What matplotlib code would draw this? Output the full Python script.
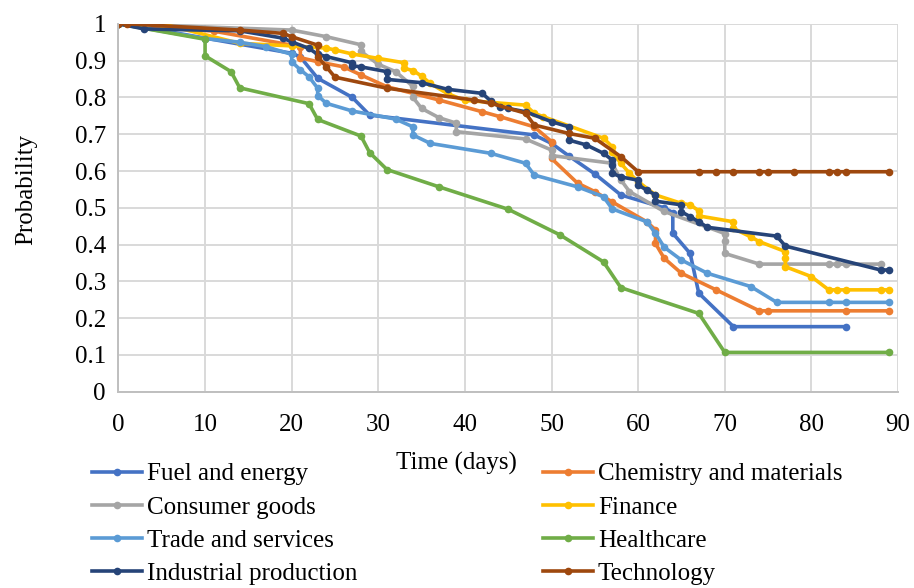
import matplotlib
matplotlib.use("Agg")
import matplotlib.pyplot as plt

# ---------------- data ----------------
fuel_days = [0, 3, 20, 21, 23, 27, 29, 48, 50, 52, 55, 58, 63, 64, 64, 66, 67, 71, 84]
fuel_prob = [1.0, 0.99, 0.92, 0.91, 0.852, 0.80, 0.752, 0.698, 0.675, 0.641, 0.592, 0.535, 0.50, 0.487, 0.431, 0.376, 0.268, 0.177, 0.177]

chem_days = [0, 11, 21, 21, 23, 26, 28, 31, 37, 42, 44, 48, 50, 50, 53, 55, 57, 61, 62, 62, 63, 65, 69, 74, 75, 84, 89]
chem_prob = [1.0, 0.98, 0.938, 0.908, 0.897, 0.883, 0.861, 0.829, 0.793, 0.761, 0.748, 0.72, 0.68, 0.634, 0.567, 0.544, 0.516, 0.462, 0.44, 0.403, 0.363, 0.322, 0.277, 0.22, 0.22, 0.22, 0.22]

cons_days = [0, 20, 24, 28, 28, 30, 32, 34, 34, 35, 37, 39, 39, 47, 50, 50, 57, 58, 59, 63, 70, 70, 70, 74, 82, 83, 84, 88]
cons_prob = [1.0, 0.983, 0.965, 0.943, 0.925, 0.89, 0.87, 0.83, 0.80, 0.77, 0.745, 0.73, 0.707, 0.687, 0.657, 0.642, 0.621, 0.576, 0.544, 0.49, 0.43, 0.41, 0.376, 0.347, 0.347, 0.347, 0.347, 0.347]

fin_days = [0, 5, 14, 20, 24, 25, 27, 30, 33, 33, 34, 35, 36, 38, 40, 47, 48, 49, 56, 57, 57, 58, 59, 60, 62, 65, 66, 67, 67, 71, 71, 73, 74, 77, 77, 77, 80, 82, 83, 84, 88, 89]
fin_prob = [1.0, 1.0, 0.947, 0.94, 0.934, 0.929, 0.918, 0.906, 0.894, 0.879, 0.873, 0.858, 0.838, 0.81, 0.792, 0.779, 0.757, 0.748, 0.689, 0.666, 0.652, 0.621, 0.594, 0.571, 0.535, 0.512, 0.508, 0.492, 0.478, 0.462, 0.444, 0.421, 0.408, 0.381, 0.363, 0.34, 0.313, 0.277, 0.277, 0.277, 0.277, 0.277]

trade_days = [0, 10, 14, 17, 20, 20, 21, 22, 23, 23, 24, 27, 32, 34, 34, 36, 43, 47, 48, 53, 56, 57, 61, 62, 63, 65, 68, 73, 76, 82, 84, 89]
trade_prob = [1.0, 0.96, 0.95, 0.938, 0.917, 0.897, 0.875, 0.856, 0.825, 0.805, 0.784, 0.763, 0.741, 0.72, 0.698, 0.675, 0.648, 0.621, 0.589, 0.557, 0.53, 0.497, 0.462, 0.431, 0.393, 0.358, 0.322, 0.286, 0.243, 0.243, 0.243, 0.243]

health_days = [0, 10, 10, 13, 14, 22, 23, 28, 29, 31, 37, 45, 51, 56, 58, 67, 70, 89]
health_prob = [1.0, 0.958, 0.913, 0.87, 0.826, 0.783, 0.74, 0.695, 0.65, 0.604, 0.557, 0.496, 0.426, 0.353, 0.283, 0.213, 0.107, 0.107]

ind_days = [0, 3, 14, 19, 20, 22, 23, 24, 27, 27, 28, 31, 31, 35, 38, 42, 43, 44, 45, 47, 50, 52, 52, 54, 56, 57, 57, 57, 58, 60, 60, 61, 62, 62, 65, 65, 66, 67, 68, 76, 77, 88, 89]
ind_prob = [1.0, 0.986, 0.981, 0.961, 0.951, 0.933, 0.917, 0.911, 0.894, 0.886, 0.883, 0.87, 0.849, 0.84, 0.822, 0.811, 0.79, 0.775, 0.77, 0.761, 0.734, 0.72, 0.684, 0.671, 0.648, 0.63, 0.616, 0.594, 0.584, 0.575, 0.562, 0.548, 0.535, 0.518, 0.508, 0.489, 0.476, 0.462, 0.447, 0.423, 0.396, 0.331, 0.331]

tech_days = [0, 1, 14, 19, 20, 23, 23, 24, 25, 31, 41, 43, 47, 48, 52, 55, 58, 60, 67, 69, 71, 74, 75, 78, 82, 83, 84, 89]
tech_prob = [1.0, 1.0, 0.983, 0.974, 0.965, 0.942, 0.911, 0.883, 0.855, 0.825, 0.793, 0.784, 0.757, 0.725, 0.702, 0.689, 0.639, 0.598, 0.598, 0.598, 0.598, 0.598, 0.598, 0.598, 0.598, 0.598, 0.598, 0.598]

series_names = ["Fuel and energy", "Chemistry and materials", "Consumer goods", "Finance",
                "Trade and services", "Healthcare", "Industrial production", "Technology"]
series_colors = ["#4472C4", "#ED7D31", "#A5A5A5", "#FFC000",
                 "#5B9BD5", "#70AD47", "#264478", "#9E480E"]
series_data = [(fuel_days, fuel_prob), (chem_days, chem_prob), (cons_days, cons_prob),
               (fin_days, fin_prob), (trade_days, trade_prob), (health_days, health_prob),
               (ind_days, ind_prob), (tech_days, tech_prob)]

x_ticks = [0, 10, 20, 30, 40, 50, 60, 70, 80, 90]
y_ticks = [0, 0.1, 0.2, 0.3, 0.4, 0.5, 0.6, 0.7, 0.8, 0.9, 1.0]
y_tick_labels = ["0", "0.1", "0.2", "0.3", "0.4", "0.5", "0.6", "0.7", "0.8", "0.9", "1"]

# ---------------- plot ----------------
plt.rcParams['font.family'] = ['Liberation Serif', 'DejaVu Serif']
FS = 18

fig = plt.figure(figsize=(9.14, 5.88), dpi=100)
ax = fig.add_axes([0.1296, 0.3337, 0.8529, 0.6258])

handles = []
for (d, p), name, col in zip(series_data, series_names, series_colors):
    h, = ax.plot(d, p, color=col, lw=2.6, marker='o', markersize=5.5,
                 markeredgewidth=0, label=name, solid_joinstyle='round')
    handles.append(h)

ax.set_xlim(0, 90)
ax.set_ylim(0, 1)
ax.set_xticks(x_ticks)
ax.set_yticks(y_ticks)
ax.set_yticklabels(y_tick_labels)
ax.grid(True, color='#D9D9D9', lw=1.4)
ax.set_axisbelow(True)
for s in ['top', 'right']:
    ax.spines[s].set_visible(False)
for s in ['left', 'bottom']:
    ax.spines[s].set_color('#BFBFBF')
    ax.spines[s].set_linewidth(1.4)
ax.tick_params(axis='both', length=0, labelsize=FS)
ax.tick_params(axis='x', pad=16)
ax.tick_params(axis='y', pad=9)

ax.set_xlabel("Time (days)", fontsize=FS)
ax.xaxis.set_label_coords(0.434, -0.163)
ax.set_ylabel("Probability", fontsize=FS)
ax.yaxis.set_label_coords(-0.104, 0.55)

col1 = [0, 2, 4, 6]
col2 = [1, 3, 5, 7]
leg_kw = dict(loc='upper left', frameon=False, fontsize=FS, handlelength=2.0,
              handletextpad=0.2, labelspacing=0.43, borderpad=0, borderaxespad=0)
leg1 = fig.legend([handles[i] for i in col1], [series_names[i] for i in col1],
                  bbox_to_anchor=(0.1007, 0.213), **leg_kw)
leg2 = fig.legend([handles[i] for i in col2], [series_names[i] for i in col2],
                  bbox_to_anchor=(0.594, 0.213), **leg_kw)

fig.savefig("out.png", dpi=100)
